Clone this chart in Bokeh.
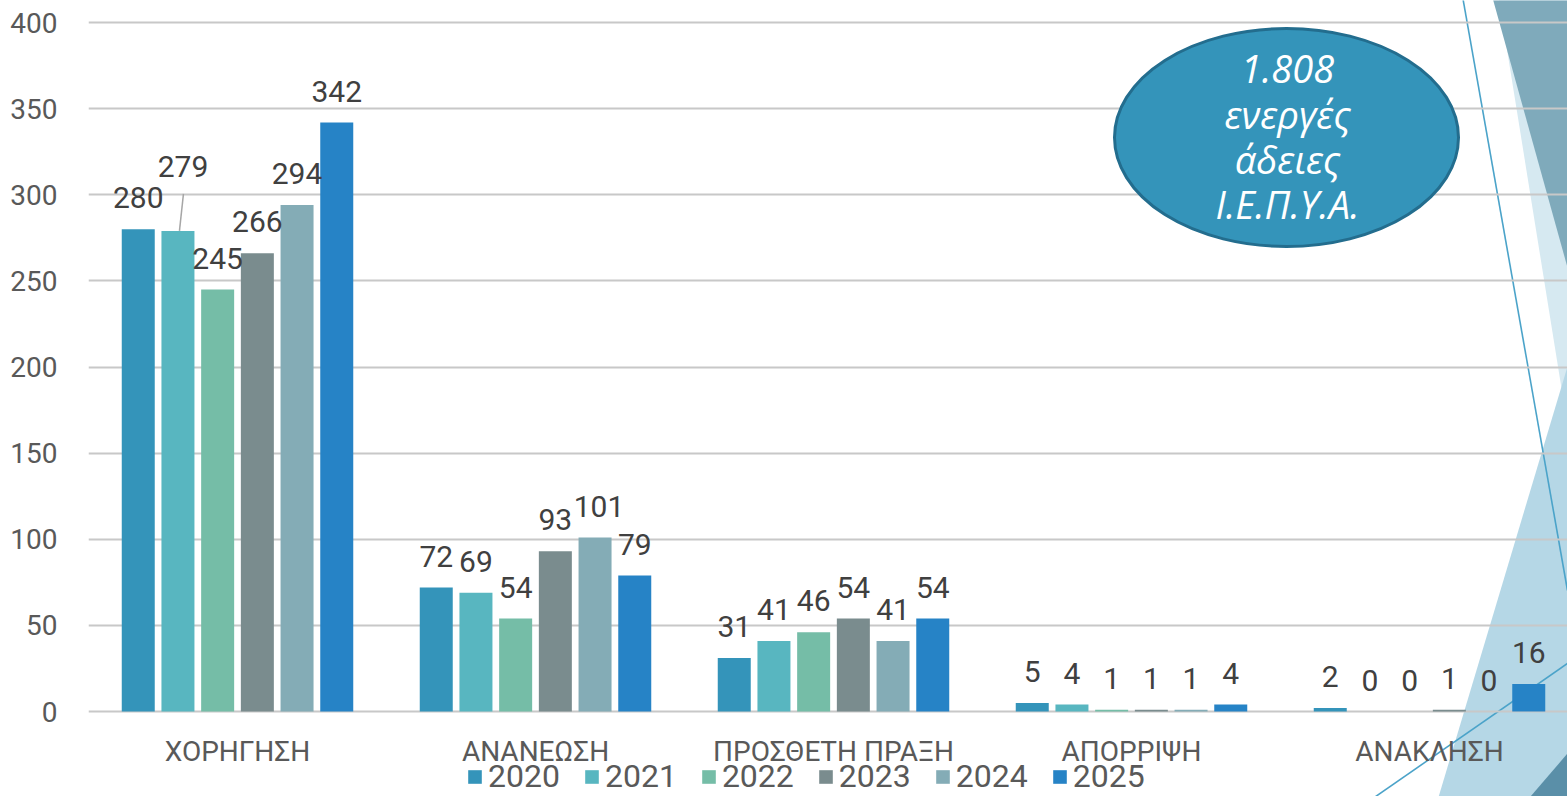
from bokeh.plotting import figure
from bokeh.models import (Range1d, FixedTicker, Legend, LegendItem, ColumnDataSource,
                          PolyAnnotation)
from bokeh.core.properties import value
from bokeh.embed import file_html
from bokeh.resources import INLINE

# ---------------- data ----------------
categories = ["ΧΟΡΗΓΗΣΗ", "ΑΝΑΝΕΩΣΗ", "ΠΡΟΣΘΕΤΗ ΠΡΑΞΗ", "ΑΠΟΡΡΙΨΗ", "ΑΝΑΚΛΗΣΗ"]
years = ["2020", "2021", "2022", "2023", "2024", "2025"]
v2020 = [280, 72, 31, 5, 2]
v2021 = [279, 69, 41, 4, 0]
v2022 = [245, 54, 46, 1, 0]
v2023 = [266, 93, 54, 1, 1]
v2024 = [294, 101, 41, 1, 0]
v2025 = [342, 79, 54, 4, 16]
series = [v2020, v2021, v2022, v2023, v2024, v2025]
y_ticks = [0, 50, 100, 150, 200, 250, 300, 350, 400]
callout_lines = ["1.808", "ενεργές", "άδειες", "Ι.Ε.Π.Υ.Α."]

# ---------------- layout / style ----------------
colors = ["#3494BA", "#58B6C0", "#75BDA7", "#7A8C8E", "#84ACB6", "#2683C6"]
W, H = 1567, 796
BORDER_L = 88            # frame starts here; frame spans full height
PLOT_TOP, PLOT_BOTTOM = 22, 711   # pixel rows of y = 400 and y = 0
CAT_PX = 298.0
PX_PER_UNIT = (PLOT_BOTTOM - PLOT_TOP) / 400.0
X_END = (W - BORDER_L) / CAT_PX
Y_START = -(H - PLOT_BOTTOM) / PX_PER_UNIT
Y_END = 400 + PLOT_TOP / PX_PER_UNIT
BAR_PITCH = 39.7 / CAT_PX
BAR_W = 33.0 / CAT_PX
FONT = "Roboto"
BASE_FIX = 0.38          # empirical baseline correction (fraction of font size)


def dx(px):
    return (px - BORDER_L) / CAT_PX


def dy(py):
    return (PLOT_BOTTOM - py) / PX_PER_UNIT


p = figure(width=W, height=H, output_backend="svg", toolbar_location=None,
           x_range=Range1d(0, X_END), y_range=Range1d(Y_START, Y_END),
           min_border_left=BORDER_L, min_border_right=0,
           min_border_top=0, min_border_bottom=0,
           background_fill_color="white", border_fill_color="white")
p.outline_line_color = None

# ---------------- background decoration ----------------
decor = [
    ([(1497, -10), (1580, -10), (1567, 425)], "#D6E9F1"),
    ([(1490, -10), (1580, -10), (1567, 267)], "#7FAABB"),
    ([(1567, 366), (1434, 810), (1580, 810)], "#B5D7E6"),
    ([(1518, 810), (1567, 753), (1580, 810)], "#5A8FA8"),
]
for pts, col in decor:
    p.add_layout(PolyAnnotation(xs=[dx(a) for a, b in pts], ys=[dy(b) for a, b in pts],
                                fill_color=col, fill_alpha=1.0, line_color=None,
                                level="image"))
for (a0, b0), (a1, b1) in [((1461, -10), (1567, 590)), ((1355, 810), (1567, 663))]:
    p.add_layout(PolyAnnotation(xs=[dx(a0), dx(a1)], ys=[dy(b0), dy(b1)],
                                fill_alpha=0, line_color="#4BA3C9", line_alpha=1.0,
                                line_width=1.6, level="image"))

# ---------------- bars ----------------
label_nudge = {(0, 1): (5, -33), (1, 4): (4, 0)}
VAL_FS = 30
items = []
lx, ly, lt, lxo, lyo = [], [], [], [], []
for j, (yr, vals, col) in enumerate(zip(years, series, colors)):
    xs = [i + 0.5 + (j - 2.5) * BAR_PITCH for i in range(len(categories))]
    src = ColumnDataSource(dict(x=xs, top=vals))
    r = p.vbar(x="x", top="top", width=BAR_W, bottom=0, source=src,
               fill_color=col, line_color=None)
    items.append(LegendItem(label=yr, renderers=[r]))
    for i, v in enumerate(vals):
        nx, ny = label_nudge.get((i, j), (0, 0))
        lx.append(xs[i]); ly.append(v); lt.append(str(v))
        lxo.append(nx); lyo.append(-20 - BASE_FIX * VAL_FS + ny)

p.text(x="x", y="y", text="t", x_offset="xo", y_offset="yo",
       source=ColumnDataSource(dict(x=lx, y=ly, t=lt, xo=lxo, yo=lyo)),
       text_align="center", text_baseline="alphabetic",
       text_font=value(FONT), text_font_size=f"{VAL_FS}px", text_color="#404040")

# leader line for the displaced label
bx = 0.5 + (1 - 2.5) * BAR_PITCH
p.segment(x0=[bx + 1.5 / CAT_PX], y0=[v2021[0]],
          x1=[bx + 5.5 / CAT_PX], y1=[v2021[0] + 37 / PX_PER_UNIT],
          line_color="#A6A6A6", line_width=1.5)

# ---------------- category labels (x axis) ----------------
CAT_FS = 28
cat_x = [i + 0.5 for i in range(len(categories))]
p.text(x=cat_x, y=[0] * len(categories), text=categories,
       y_offset=51 - BASE_FIX * CAT_FS,
       text_align="center", text_baseline="alphabetic",
       text_font=value(FONT), text_font_size=f"{CAT_FS}px", text_color="#595959")
p.xaxis.visible = False

# ---------------- callout ellipse ----------------
ELL_FS = 38
p.ellipse(x=[dx(1286)], y=[dy(137)], width=344 / CAT_PX, height=218 / PX_PER_UNIT,
          fill_color="#3494BA", line_color="#236D8E", line_width=3)
baselines = [83, 128, 173, 218]
p.text(x=[dx(1287)] * 4, y=[dy(b - BASE_FIX * ELL_FS) for b in baselines],
       text=callout_lines,
       text_align="center", text_baseline="alphabetic",
       text_font=value("Open Sans"), text_font_style="italic",
       text_font_size=f"{ELL_FS}px", text_color="white")

# ---------------- y axis & grid ----------------
p.xgrid.visible = False
p.ygrid.ticker = FixedTicker(ticks=y_ticks)
p.ygrid.grid_line_color = "#C8C8C8"
p.ygrid.grid_line_width = 2

p.yaxis.ticker = FixedTicker(ticks=y_ticks)
p.yaxis.axis_line_color = None
p.yaxis.major_tick_line_color = None
p.yaxis.minor_tick_line_color = None
p.yaxis.major_label_standoff = 25
p.yaxis.major_label_text_font = FONT
p.yaxis.major_label_text_font_size = "28px"
p.yaxis.major_label_text_color = "#595959"

legend = Legend(items=items, orientation="horizontal", location=(378, 1),
                glyph_width=17, glyph_height=17, label_standoff=5, spacing=23,
                padding=0, margin=0, border_line_color=None,
                background_fill_alpha=0,
                label_text_font=FONT, label_text_font_size="32px",
                label_text_color="#595959")
p.add_layout(legend, "center")

open("out.html", "w").write(file_html(p, INLINE))
